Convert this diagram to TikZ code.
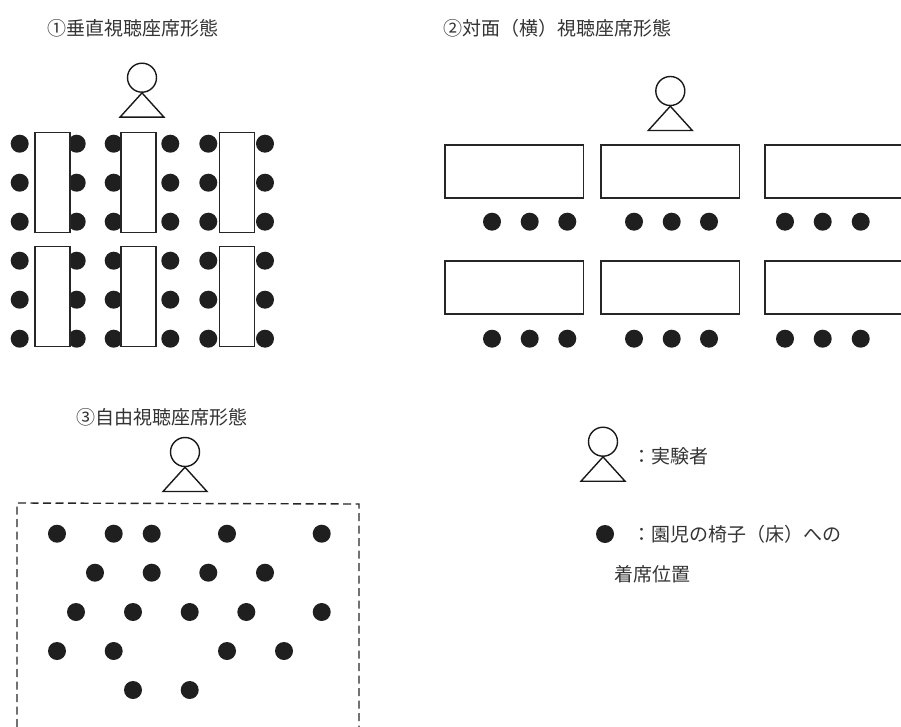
\documentclass[tikz,border=0pt]{standalone}
\usepackage{fontspec}
\newfontfamily\jpfont{Noto Sans CJK JP}
\tikzset{
 x=1pt,y=-1pt,
 seat/.style={circle,fill=black!88,draw=none,minimum size=18pt,inner sep=0pt},
 desk/.style={draw=black!85,fill=white,line width=1.4pt,rectangle},
 label/.style={font=\jpfont\fontsize{19}{21}\selectfont,text=black!80,anchor=west,inner sep=0pt},
 figline/.style={draw=black!90,line width=1.4pt,line join=miter},
}
\newcommand{\person}[3]{% name, x, y(circle centre)
 \node[circle,figline,minimum size=29pt,inner sep=0pt] (#1h) at (#2,#3) {};
 \coordinate (#1l) at (#2-22,#3+39.5);
 \coordinate (#1r) at (#2+22,#3+39.5);
 \draw[figline] (#1h.south) -- (#1l) -- (#1r) -- cycle;
}
\begin{document}
\begin{tikzpicture}
\useasboundingbox (0,0) rectangle (901,727);
\node[label] (t1) at (47,28) {①垂直視聴座席形態};
\node[label] (t2) at (443,28) {②対面（横）視聴座席形態};
\node[label] (t3) at (76,417) {③自由視聴座席形態};
\person{p1}{142}{77.7}
\person{p2}{670.3}{91}
\person{p3}{185}{452}
\person{p4}{603}{441.7}
% group 1 seats
\foreach \x in {19.7,76.7,113.7,170.3,208.3,265}
 \foreach \y in {143.7,182.7,221.7,260.7,299.7,338.7}
  \node[seat] at (\x,\y) {};
\foreach \x in {35,121,219.5}
 \foreach \y in {132.5,246.5}
  \draw[desk] (\x,\y) rectangle (\x+35,\y+100);
% group 2
\foreach \x in {445,601,765}
 \foreach \y in {145,261}
  \draw[desk] (\x,\y) rectangle (\x+138.4,\y+53);
\foreach \x in {492,529.7,567.3,634,671.7,709,785,822.7,860.7}
 \foreach \y in {221.7,338.7}
  \node[seat] at (\x,\y) {};
% group 3
\foreach \x/\y in {57/533.7,113.7/533.7,151.7/533.7,227/533.7,321.7/533.7,
 95/572.7,151.7/572.7,208.3/572.7,265/572.7,
 76/612,133/612,189.7/612,246.3/612,321.7/612,
 57/651,113.7/651,227/651,284/651,
 133/690,189.7/690}
  \node[seat] at (\x,\y) {};
\coordinate (a) at (17,727);
\coordinate (b) at (17,503);
\coordinate (c) at (359,504);
\coordinate (d) at (359,727);
\draw[black!85,line width=1.4pt,dash pattern=on 8pt off 4.5pt] (a) -- (b) -- (c) -- (d);
% legend
\node[label] (l1) at (632,456) {：実験者};
\node[seat] (s) at (605,534) {};
\node[label] (l2) at (632,534) {：園児の椅子（床）への};
\node[label] (l3) at (614,574) {着席位置};
\end{tikzpicture}
\end{document}
